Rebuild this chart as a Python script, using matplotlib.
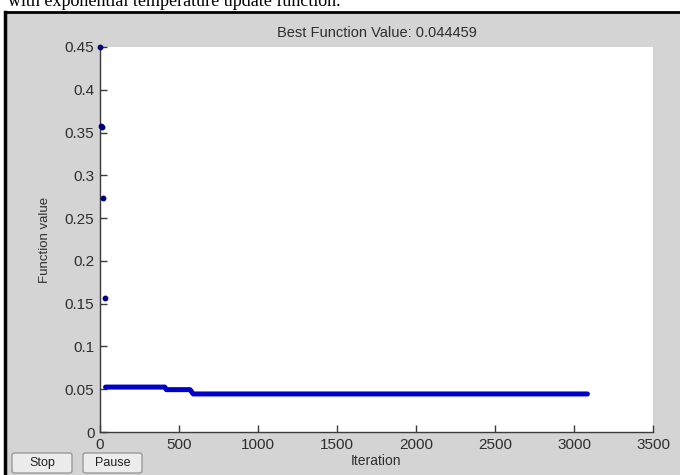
import matplotlib
matplotlib.use("Agg")
import matplotlib.pyplot as plt
from matplotlib.patches import Rectangle, FancyBboxPatch

# Early scattered evaluations (iteration, best value)
early_iter = [1, 8, 10, 21, 32]
early_vals = [0.450, 0.358, 0.356, 0.274, 0.157]

# Best-value plateau (iteration breakpoints, best value)
plateau_iter = [35, 410, 420, 570, 590, 3085]
plateau_vals = [0.0525, 0.0525, 0.0495, 0.0495, 0.044459, 0.044459]

best_value = 0.044459
xticks = [0, 500, 1000, 1500, 2000, 2500, 3000, 3500]
yticks = [0, 0.05, 0.1, 0.15, 0.2, 0.25, 0.3, 0.35, 0.4, 0.45]

W, H = 680, 475
fig = plt.figure(figsize=(W / 100, H / 100), dpi=100)
fig.patch.set_facecolor("white")

# MATLAB-like gray window panel
panel = Rectangle((5 / W, 0), 1 - 5 / W, 1 - 12 / H, transform=fig.transFigure,
                  facecolor="#d4d4d4", edgecolor="none", zorder=0)
fig.add_artist(panel)
fig.add_artist(plt.Line2D([5 / W, 1], [1 - 12 / H, 1 - 12 / H], transform=fig.transFigure,
                          color="black", lw=2, zorder=1))
fig.add_artist(plt.Line2D([5 / W, 5 / W], [0, 1 - 12 / H], transform=fig.transFigure,
                          color="black", lw=2.5, zorder=1))

# caption text cut off at top (as in the reference screenshot)
fig.text(8 / W, 1 - 6 / H, "with exponential temperature update function.",
         family=["Liberation Serif", "DejaVu Serif"], fontsize=13, color="black",
         ha="left", va="baseline")

ax = fig.add_axes([100 / W, 1 - 432 / H, 553 / W, 385 / H])
ax.set_zorder(5)
ax.set_facecolor("white")
ax.plot(plateau_iter, plateau_vals, color="#0000c8", lw=3.6, solid_capstyle="round",
        solid_joinstyle="round", zorder=3)
ax.plot(early_iter, early_vals, linestyle="none", marker="o", markersize=3.2,
        color="#00007a", zorder=4, clip_on=False)

ax.set_xlim(0, 3500)
ax.set_ylim(0, 0.45)
ax.set_xticks(xticks)
ax.set_yticks(yticks)
ax.set_xticklabels([str(t) for t in xticks])
ax.set_yticklabels(["0", "0.05", "0.1", "0.15", "0.2", "0.25", "0.3", "0.35", "0.4", "0.45"])
for s in ["top", "right"]:
    ax.spines[s].set_visible(False)
for s in ["left", "bottom"]:
    ax.spines[s].set_color("#3a3a3a")
    ax.spines[s].set_linewidth(1.0)
ax.tick_params(direction="in", length=5, width=1, color="#3a3a3a",
               labelcolor="#2e2e2e", labelsize=11, pad=4)
for lab in ax.get_xticklabels() + ax.get_yticklabels():
    lab.set_family(["Liberation Sans", "DejaVu Sans"])

ax.set_title("Best Function Value: %g" % best_value, family=["Liberation Sans", "DejaVu Sans"],
             fontsize=10.5, color="#2e2e2e", pad=7)
ax.set_xlabel("Iteration", family=["Liberation Sans", "DejaVu Sans"], fontsize=10,
              color="#2e2e2e", labelpad=2)
ax.set_ylabel("Function value", family=["Liberation Sans", "DejaVu Sans"], fontsize=9.5,
              color="#2e2e2e", labelpad=10)

# Stop / Pause buttons
for x0, x1, label in [(12, 72, "Stop"), (83, 142, "Pause")]:
    btn = FancyBboxPatch((x0 / W, 1 - 473 / H), (x1 - x0) / W, 20 / H,
                         boxstyle="round,pad=0,rounding_size=0.004",
                         transform=fig.transFigure, facecolor="#ececec",
                         edgecolor="#9a9a9a", lw=1, zorder=2)
    fig.add_artist(btn)
    fig.text((x0 + x1) / 2 / W, 1 - 463 / H, label, ha="center", va="center",
             family=["Liberation Sans", "DejaVu Sans"], fontsize=9, color="#222222", zorder=3)

fig.savefig("out.png", dpi=100, facecolor=fig.get_facecolor())
